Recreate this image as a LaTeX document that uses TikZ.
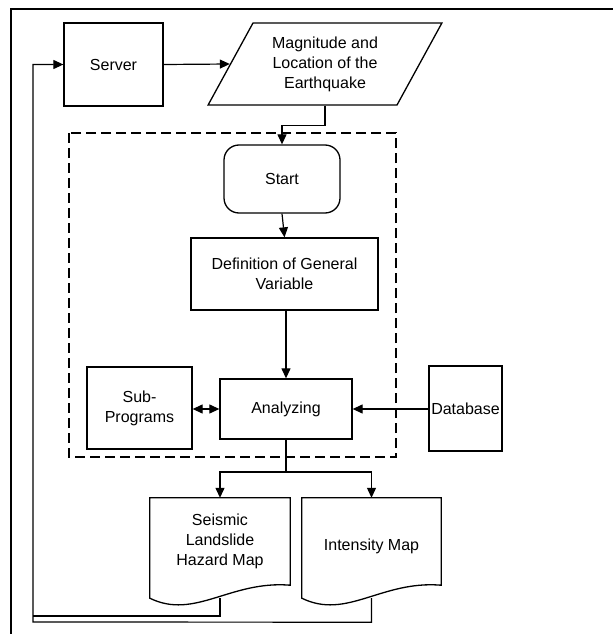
\documentclass[tikz,border=0pt]{standalone}
\usepackage{fontspec}
\setmainfont{Liberation Sans}
\usetikzlibrary{arrows.meta,shapes.geometric}
\begin{document}
\begin{tikzpicture}[x=1pt,y=-1pt,
  every node/.style={font=\fontsize{16}{20}\selectfont, align=center, inner sep=2pt},
  boxnode/.style={draw, line width=1.3pt, minimum width=#1},
  tip/.tip={Triangle[length=10pt,width=9pt]},
  arr/.style={-tip, line width=1.2pt},
  line/.style={line width=1.2pt},
  docshape/.style={line width=1.3pt},
]
\useasboundingbox (0,0) rectangle (613,634);
% outer frame
\draw[line width=1.5pt] (11,634) -- (11,9) -- (613,9);
% nodes
\node[boxnode=99pt, minimum height=83pt] (server) at (113.5,64.5) {Server};
\node[draw, line width=1.3pt, trapezium, trapezium stretches=true, trapezium left angle=59, trapezium right angle=121, minimum width=234pt, minimum height=82pt, inner sep=0pt] (mag) at (325,64) {Magnitude and\\Location of the\\Earthquake};
\node[draw, line width=1.3pt, rounded corners=15pt, minimum width=116pt, minimum height=68pt] (start) at (282,179) {Start};
\node[boxnode=187pt, minimum height=72pt] (def) at (284.5,274) {Definition of General\\Variable};
\node[boxnode=132pt, minimum height=60pt] (ana) at (286,409) {Analyzing};
\node[boxnode=105pt, minimum height=82pt] (sub) at (139.5,408) {Sub-\\Programs};
\node[boxnode=73pt, minimum height=85pt, inner sep=0pt] (db) at (465.5,408.5) {Database};
\node[minimum width=140pt, minimum height=100pt, inner sep=0pt] (seis) at (220,548) {};
\node[minimum width=139pt, minimum height=100pt, inner sep=0pt] (inten) at (371.5,548) {};
\node at (220,541) {Seismic\\Landslide\\Hazard Map};
\node at (371.5,546) {Intensity Map};
% document shapes
\foreach \d in {seis,inten}{
  \draw[docshape] (\d.north west) -- (\d.north east) -- ([yshift=13pt]\d.south east)
    .. controls ([xshift=-60pt,yshift=18pt]\d.south east) and ([xshift=45pt,yshift=-22pt]\d.south west) .. (\d.south west) -- cycle;
}
% dashed group
\draw[dash pattern=on 10pt off 5pt, line width=1.8pt] (69,133) rectangle (396,457);
% connectors
\draw[arr] (server.east) -- (mag.west);
\draw[arr] (mag.south) -- ++(0,20) -| (start.north);
\draw[arr] (start.south) -- (def.north);
\draw[arr] (def.south -| ana.north) -- (ana.north);
\draw[tip-tip, line width=1.2pt] (sub.east |- ana.west) -- (ana.west);
\draw[arr] (db.west |- ana.east) -- (ana.east);
\coordinate (split) at (ana.south |- 0,472);
\draw[line] (ana.south) -- (split);
\draw[arr] (split) -| (seis.north);
\draw[arr] (split) -| (inten.north);
\coordinate (fbl) at (33,616);
\coordinate (fbr) at (33,622);
\draw[line] (seis.south) |- (fbl);
\draw[arr] (inten.south) -- ++(0,24) -- (fbr) -- (fbr |- server.west) -- (server.west);
\end{tikzpicture}
\end{document}
